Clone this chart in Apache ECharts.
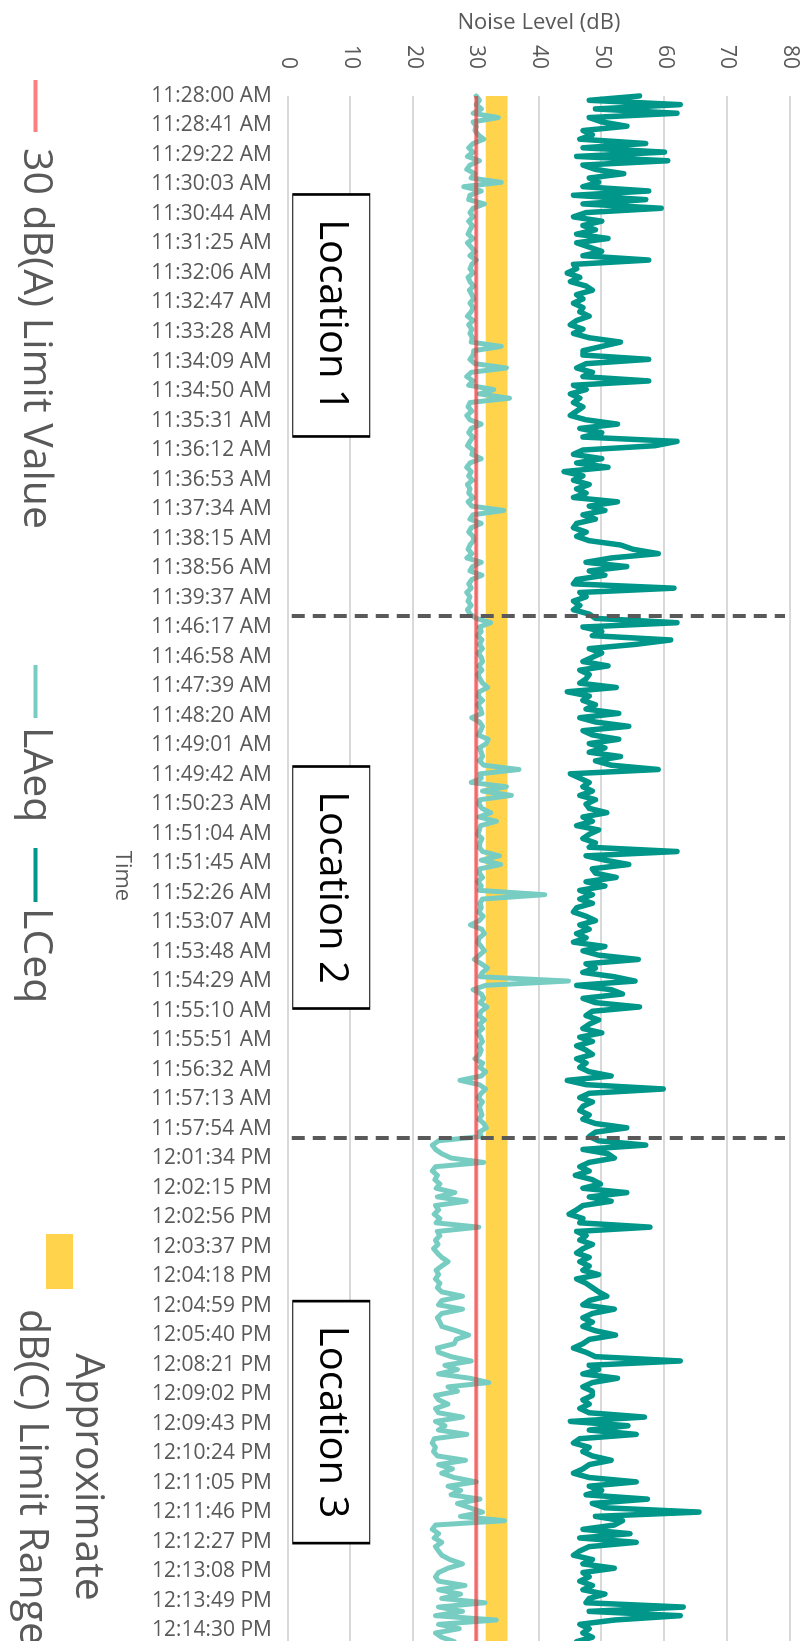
<!DOCTYPE html>
<html>
<head>
<meta charset="utf-8">
<script src="https://cdn.jsdelivr.net/npm/echarts@6/dist/echarts.min.js"></script>
<style>
html,body{margin:0;padding:0;width:809px;height:1641px;overflow:hidden;background:#fff;}
#wrap{position:absolute;left:0;top:0;width:1700px;height:809px;transform-origin:0 0;transform:translate(809px,0) rotate(90deg);}
</style>
</head>
<body>
<div id="wrap"></div>
<script>
// ---- data ----
const timeLabels = [
 '11:28:00 AM','11:28:41 AM','11:29:22 AM','11:30:03 AM','11:30:44 AM','11:31:25 AM','11:32:06 AM','11:32:47 AM','11:33:28 AM',
 '11:34:09 AM','11:34:50 AM','11:35:31 AM','11:36:12 AM','11:36:53 AM','11:37:34 AM','11:38:15 AM','11:38:56 AM','11:39:37 AM',
 '11:46:17 AM','11:46:58 AM','11:47:39 AM','11:48:20 AM','11:49:01 AM','11:49:42 AM','11:50:23 AM','11:51:04 AM','11:51:45 AM',
 '11:52:26 AM','11:53:07 AM','11:53:48 AM','11:54:29 AM','11:55:10 AM','11:55:51 AM','11:56:32 AM','11:57:13 AM','11:57:54 AM',
 '12:01:34 PM','12:02:15 PM','12:02:56 PM','12:03:37 PM','12:04:18 PM','12:04:59 PM','12:05:40 PM','12:08:21 PM','12:09:02 PM',
 '12:09:43 PM','12:10:24 PM','12:11:05 PM','12:11:46 PM','12:12:27 PM','12:13:08 PM','12:13:49 PM','12:14:30 PM'
];
const samplesPerLabel = 41;   // one reading per second, a label every 41 readings
const totalSamples = 2168;
const sampleStep = 6;         // values below are read every 6 readings

const laeq = [
 30,30.5,30,30.8,29.5,33.5,29.5,30,29.8,30.3,
 31.2,29.5,28.8,29.5,28.6,30.5,29,28.5,29.8,29.2,
 34,28,30.8,29,28.8,31.3,29.5,29,29.5,28.8,
 29.4,29,28.7,29.5,28.6,29.2,29.8,29,30,29.3,
 29,29.5,28.7,29,29.6,28.9,29.3,29.6,29,29.5,
 29.2,28.6,29.5,28.8,29.3,29,29.4,29.2,34,29.6,
 29.5,29,29.8,34.8,29.2,28.5,29.5,28.8,32.8,30.5,
 35.3,29,28.7,29.3,28.5,29,30.8,29.2,28.8,29.5,
 29,28.6,29.5,29.3,30.8,29,28.5,29.2,28.8,29.4,
 28.6,29,28.8,29.5,28.7,29.3,34.4,29.5,29,30.8,
 29.2,28.8,29.5,29.6,29,28.7,29.3,28.5,30.8,29.4,
 29,30.9,29.3,28.8,29.2,28.5,29,28.7,29.2,28.6,
 29,30,32.3,30.5,30.8,30.2,30.9,30.5,31,30.3,
 30.8,31,30.4,30.9,30.2,30.6,31,31.8,30.5,30.3,
 31,30.2,30.7,30.9,29.3,30.5,31,30.7,30.3,31.9,
 31.6,30.5,30.8,31,30.5,31.2,36.8,30.6,30.8,29.2,
 34.8,31,35.6,30.6,30.4,30.9,32.3,30.4,33.2,30.7,
 30.5,30.2,30.9,30.6,30.5,31,33.7,30.8,33.9,30.6,
 30.5,31,30.2,30.8,30.5,40.9,31,30.6,30.8,30.4,
 31.1,30.5,29.1,30.9,31.3,30.5,30.2,30.8,31.3,30.5,
 29.7,30.8,31.8,31,30.6,44.7,31.5,29.5,30.8,31.2,
 30.6,31.7,30.8,30.4,31.3,30.5,31,30.2,30.7,31,
 30.4,30.8,30.5,29.8,31,30.6,31.5,30.8,27.4,30.5,
 31.5,30.8,30.3,31,30.5,30.7,30.9,30.4,31.2,31.6,
 30.5,30.8,24,23,23.5,24.5,26,31.2,23.5,23,
 23.8,23.4,24.2,23.6,26.6,23.8,28.4,23.5,24,23.3,
 24.2,23.6,30.4,23.8,24.2,23.5,23.9,23.2,23.8,24.5,
 25.5,24.5,23.6,24,23.5,24.2,23.8,24.5,27.8,24.5,
 24,27.8,24.5,23.8,24.2,24.5,26.8,28.8,26.8,26.5,
 23.8,24,26,29.2,25,27,24,29,32,25.5,
 27,23.5,24,25.5,23.5,24,27.8,23.5,25,24,
 28.5,23.3,23,23.5,23.2,23.8,28.3,24,26.2,24.5,
 26.5,30,25.5,27.5,26,30.6,27,29,31,27.5,
 34.5,23.5,23,24,23.3,24.5,23.5,24,24.5,25.8,
 27.8,25.5,24,23.5,24,28.2,24,27.5,24.5,31.4,
 24,27.8,23.5,33.2,24,27.3,23.5,24.5,26.5,24,24.5,24
];

const lceq = [
 56,48,62.5,49,62,48,50,54,47,48.5,
 46.5,57,47,60,46,60.5,47,49,53.5,48,
 49.5,47,57.5,45.5,57,47,59.5,47.5,45.5,50,
 47,49,46,51,46,48,50,47,57.5,45.5,
 46,44.5,46.5,45,47.5,48.5,46,47,45.5,47,
 46.5,48,46,45,47,45.5,48,53,50,47,
 47,57.5,47.5,46,48.5,47,57.5,45.5,47.5,45,
 46.5,45.5,47,46,45,47.5,52.5,46.5,50,47,
 62,58.5,47,45.5,50,46,51,44,47,45.5,
 48,46,47.5,45.5,52.5,48,50.5,47,49,46,
 45.5,47.5,46,48,53,55,59,51.5,47.5,54,
 48,50.5,46,45.5,61.5,46.5,47.5,45.5,46.5,45.5,
 48,49,62,47,50,48.5,61,55.5,48,50,
 48.5,47,51,46.5,48,47.5,46.5,52.3,44.5,48,
 47,49,47.5,52.7,46.5,49,54.3,47,48.5,52.7,
 48,50.5,48,53,49,51.5,59,45,46.5,48,
 47,48.5,46.5,49,47.5,48,50.8,47,48.5,46,
 49.5,48,47,49,48,62,47.5,50.5,54.3,48.5,
 49,52.3,47.5,50.5,46.5,48.5,46.5,48.5,46,45.5,
 47.5,49,46.5,48,46,47.5,45.5,50.5,47,49.5,
 55.8,47.5,49,47,52,55.3,46,51.5,53.3,47,
 49,56,48.5,47.5,49.5,48,47,50,46.5,48.5,
 46,47.5,48.5,46,47.5,46.5,48,51.5,44.5,47.5,
 59.8,48,46.5,48.5,47,46.5,48,47,49,54,
 49,48,49.5,57,47,51,52,48,46.5,48,
 45.8,48.5,49.8,47,54,48,51.5,47,46,44.8,
 47,46.5,57.7,46,47.5,46.5,48.5,47,46,48,
 46.5,48,47,49.5,46,47.5,48.5,49.5,50.8,48,
 47,52,48.5,47,48.5,47,49,52.2,48,47,
 45.5,47.5,49,62.5,48,49.5,47,52.5,48.5,47,
 48.5,48.5,47,48,46.5,48,56.8,45,54.2,48,
 55.5,46.5,45.5,48,47,48.5,51.5,48,47,45.5,
 48,55.5,48,50,47.5,57.3,48.5,50.5,65.5,49,
 53.3,52,47,54.5,46.5,55.5,48,46.5,45.5,48.5,
 47,52,47,48,46.5,48.5,47,50.5,48,47.5,
 63,48,62.5,52,46.5,48,47,48.5,46,48,47.5,49
];

const limitValue = 30;                 // 30 dB(A) limit
const bandRange = [31.5, 35];          // approximate dB(C) limit range
const boundaries = [722, 1448];        // reading index where the location changes
const locationNames = ['Location 1', 'Location 2', 'Location 3'];
const locationCenters = [305, 1100, 1843];
const locationLevel = 6.9;
const valueTicks = [0, 80, 10];

// ---- chart ----
const GREY = '#595959';
const FONT = 'Open Sans';
const toPairs = arr => arr.map((v, i) => [i * sampleStep, v]);

const chart = echarts.init(document.getElementById('wrap'), null, {renderer: 'canvas'});

function legendFor(name, left, top, w, h, pad, rich) {
  return {
    orient: 'horizontal', left: left, top: top, padding: 0, itemGap: 0,
    selectedMode: false, icon: 'rect', itemWidth: w, itemHeight: h,
    data: [name],
    formatter: rich.formatter || (n => '{a|' + n + '}'),
    textStyle: {rich: {a: Object.assign({fontSize: 41, color: GREY, fontFamily: FONT,
      padding: [0, 0, 0, pad], lineHeight: 46}, rich.a || {})}}
  };
}

const BAND_COLOR = 'rgba(255,192,0,0.7)';
const GRID_LEFT = 96, PLOT_W = 1560;

const option = {
  animation: false,
  textStyle: {fontFamily: FONT},
  grid: {left: GRID_LEFT, right: 1700 - GRID_LEFT - PLOT_W, top: 19, bottom: 288, containLabel: false},
  xAxis: {
    type: 'value', min: 0, max: totalSamples, interval: samplesPerLabel,
    name: 'Time', nameLocation: 'middle', nameGap: 155,
    nameTextStyle: {fontSize: 22, color: GREY, fontFamily: FONT},
    axisLine: {show: false}, axisTick: {show: false}, splitLine: {show: false},
    axisLabel: {
      rotate: 90, margin: 16, fontSize: 21, color: GREY, fontFamily: FONT,
      showMaxLabel: false,
      formatter: v => (v % samplesPerLabel === 0 && timeLabels[v / samplesPerLabel]) ? timeLabels[v / samplesPerLabel] : ''
    }
  },
  yAxis: {
    type: 'value', min: valueTicks[0], max: valueTicks[1], interval: valueTicks[2],
    name: 'Noise Level (dB)', nameLocation: 'middle', nameGap: 58, nameRotate: 90,
    nameTextStyle: {fontSize: 22, color: GREY, fontFamily: FONT},
    axisLine: {show: false}, axisTick: {show: false},
    axisLabel: {fontSize: 21, color: GREY, margin: 27, fontFamily: FONT},
    splitLine: {lineStyle: {color: '#d9d9d9', width: 2}}
  },
  legend: [
    legendFor('30 dB(A) Limit Value', 80, 753, 52, 4, 11, {}),
    legendFor('LAeq', 665, 753, 53, 4, 4, {}),
    legendFor('LCeq', 848, 753, 54, 4, 1, {}),
    legendFor('Approximate dB(C) Limit Range', 1234, 701, 55, 27, 8, {
      formatter: () => '{a|Approximate}\n{a|dB(C) Limit Range}',
      a: {width: 350, align: 'center', lineHeight: 56}
    })
  ],
  series: [
    {
      name: 'LAeq', type: 'line', data: toPairs(laeq), showSymbol: false, symbol: 'none',
      lineStyle: {color: '#78CDC3', width: 5, join: 'round', cap: 'round'},
      itemStyle: {color: '#78CDC3'}, z: 2,
      markLine: {
        silent: true, symbol: ['none', 'none'], animation: false,
        label: {show: false},
        lineStyle: {color: GREY, width: 4, type: [13, 8], opacity: 1},
        data: boundaries.map(b => [{coord: [b, 0.6]}, {coord: [b, 79.2]}])
      }
    },
    {
      name: 'LCeq', type: 'line', data: toPairs(lceq), showSymbol: false, symbol: 'none',
      lineStyle: {color: '#00968A', width: 5.5, join: 'round', cap: 'round'},
      itemStyle: {color: '#00968A'}, z: 3,
      markPoint: {
        silent: true, animation: false, symbol: 'rect', symbolSize: [242, 77],
        itemStyle: {color: '#ffffff', borderColor: '#000000', borderWidth: 1.5},
        label: {show: true, position: 'inside', formatter: '{b}', color: '#000', fontSize: 40, fontFamily: FONT},
        data: locationNames.map((n, k) => ({name: n, coord: [locationCenters[k], locationLevel]}))
      }
    },
    {
      name: '30 dB(A) Limit Value', type: 'line', showSymbol: false, symbol: 'none', silent: true,
      data: [[0, limitValue], [totalSamples, limitValue]],
      lineStyle: {color: 'rgba(255,0,0,0.5)', width: 4},
      itemStyle: {color: 'rgba(255,0,0,0.5)'}, z: 4
    },
    {
      name: 'Approximate dB(C) Limit Range', type: 'line', showSymbol: false, symbol: 'none', silent: true,
      data: [[0, bandRange[1]], [totalSamples, bandRange[1]]],
      lineStyle: {opacity: 0, width: 0},
      itemStyle: {color: BAND_COLOR}, z: 5,
      markArea: {
        silent: true, animation: false,
        itemStyle: {color: BAND_COLOR, opacity: 1},
        label: {show: false},
        data: [[{yAxis: bandRange[0]}, {yAxis: bandRange[1]}]]
      }
    }
  ]
};
chart.setOption(option);
</script>
</body>
</html>
